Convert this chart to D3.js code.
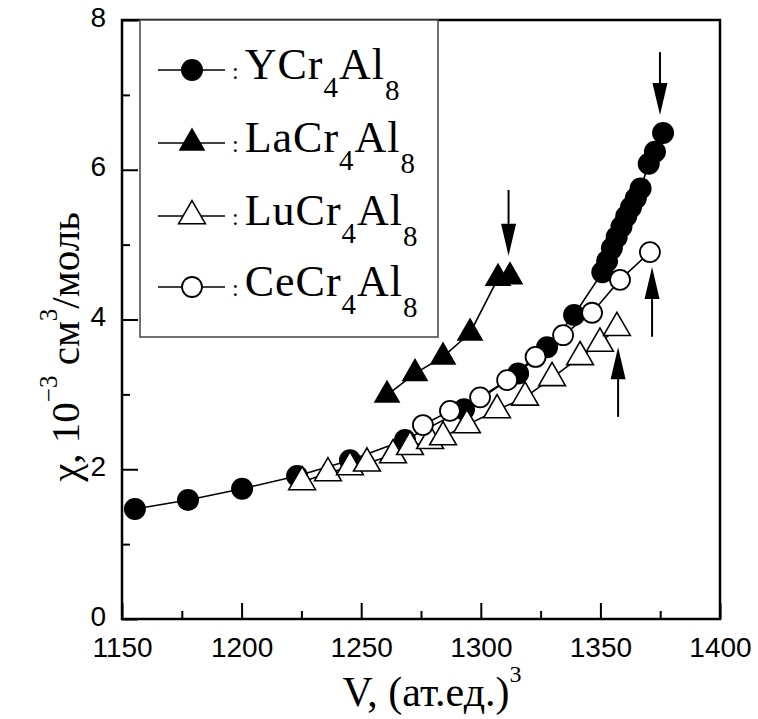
<!DOCTYPE html>
<html>
<head>
<meta charset="utf-8">
<script src="https://cdn.jsdelivr.net/npm/d3@7"></script>
<style>
  html, body { margin: 0; padding: 0; background: #fff; }
  svg { display: block; }
</style>
</head>
<body>
<svg id="chart" width="758" height="719"></svg>
<script>
// Magnetic susceptibility χ (10^-3 cm^3/mol) vs unit-cell volume V (a.u.^3)
const seriesNames = ["YCr4Al8", "LaCr4Al8", "LuCr4Al8", "CeCr4Al8"];
const seriesPrefix = ["Y", "La", "Lu", "Ce"];

const yV   = [1155.4, 1177.6, 1200.2, 1223.2, 1245.3, 1268.3, 1293.0, 1315.6, 1327.7, 1339.0,
              1350.8, 1352.8, 1354.8, 1356.8, 1358.8, 1360.8, 1362.8, 1364.8, 1366.8, 1370.2, 1372.8, 1376.2];
const yChi = [1.47, 1.59, 1.74, 1.91, 2.12, 2.39, 2.80, 3.28, 3.63, 4.06,
              4.63, 4.78, 4.95, 5.10, 5.24, 5.38, 5.50, 5.62, 5.75, 6.08, 6.24, 6.49];

const laV   = [1260.8, 1272.5, 1284.2, 1295.5, 1307.2, 1312.2];
const laChi = [2.99, 3.28, 3.50, 3.82, 4.55, 4.57];

const luV   = [1225.3, 1236.1, 1245.3, 1252.4, 1263.3, 1270.4, 1278.8, 1284.2, 1294.2, 1306.8,
               1318.5, 1329.8, 1341.5, 1349.8, 1356.9];
const luChi = [1.83, 1.95, 2.03, 2.08, 2.19, 2.30, 2.38, 2.43, 2.59, 2.79,
               2.96, 3.22, 3.50, 3.68, 3.89];

const ceV   = [1275.8, 1287.1, 1299.7, 1311.0, 1322.9, 1334.4, 1346.5, 1358.2, 1370.7];
const ceChi = [2.59, 2.78, 2.96, 3.19, 3.50, 3.79, 4.09, 4.53, 4.90];

// Arrows marking transition points: V, χ at tail, χ at tip
const arrowV    = [1311.6, 1374.9, 1371.6, 1357.4];
const arrowFrom = [5.73, 7.57, 3.77, 2.70];
const arrowTo   = [4.85, 6.73, 4.70, 3.63];

const xMajorTicks = [1150, 1200, 1250, 1300, 1350, 1400];
const xMinorTicks = [1175, 1225, 1275, 1325, 1375];
const yMajorTicks = [0, 2, 4, 6, 8];
const yMinorTicks = [1, 3, 5, 7];

const series = [
  { name: seriesNames[0], prefix: seriesPrefix[0], v: yV,  chi: yChi,  shape: "circle",   filled: true },
  { name: seriesNames[1], prefix: seriesPrefix[1], v: laV, chi: laChi, shape: "triangle", filled: true },
  { name: seriesNames[2], prefix: seriesPrefix[2], v: luV, chi: luChi, shape: "triangle", filled: false },
  { name: seriesNames[3], prefix: seriesPrefix[3], v: ceV, chi: ceChi, shape: "circle",   filled: false }
];

const svg = d3.select("#chart");
const plotLeft = 122, plotRight = 720, plotTop = 20, plotBottom = 619;

const x = d3.scaleLinear().domain([1150, 1400]).range([plotLeft, plotRight]);
const y = d3.scaleLinear().domain([0, 8]).range([plotBottom, plotTop]);

const serif = "'Liberation Serif', 'Times New Roman', serif";
const sans = "'Liberation Sans', Arial, sans-serif";

// Axes with inward ticks
const gx = svg.append("g").attr("transform", `translate(0,${plotBottom})`)
  .call(d3.axisBottom(x).tickValues(xMajorTicks).tickSize(-16).tickPadding(18).tickFormat(d3.format("d")));
const gxm = svg.append("g").attr("transform", `translate(0,${plotBottom})`)
  .call(d3.axisBottom(x).tickValues(xMinorTicks).tickSize(-8).tickFormat(""));
const gy = svg.append("g").attr("transform", `translate(${plotLeft},0)`)
  .call(d3.axisLeft(y).tickValues(yMajorTicks).tickSize(-16).tickPadding(16).tickFormat(d3.format("d")));
const gym = svg.append("g").attr("transform", `translate(${plotLeft},0)`)
  .call(d3.axisLeft(y).tickValues(yMinorTicks).tickSize(-8).tickFormat(""));

[gx, gxm, gy, gym].forEach(g => {
  g.select(".domain").remove();
  g.selectAll(".tick line").attr("stroke", "#000").attr("stroke-width", 2);
  g.selectAll(".tick text").attr("fill", "#000").style("font-family", sans).style("font-size", "28px");
});
gy.selectAll(".tick text").attr("dy", "0.22em");

// Plot frame
svg.append("rect")
  .attr("x", plotLeft).attr("y", plotTop)
  .attr("width", plotRight - plotLeft).attr("height", plotBottom - plotTop)
  .attr("fill", "none").attr("stroke", "#000").attr("stroke-width", 2.5);

const triSym = d3.symbol().type(d3.symbolTriangle).size(310);

function drawMarker(g, s, cx, cy) {
  if (s.shape === "circle") {
    g.append("circle").attr("cx", cx).attr("cy", cy).attr("r", s.filled ? 11 : 10)
      .attr("fill", s.filled ? "#000" : "#fff").attr("stroke", "#000").attr("stroke-width", s.filled ? 0 : 1.8);
  } else {
    g.append("path").attr("d", triSym).attr("transform", `translate(${cx},${cy})`)
      .attr("fill", s.filled ? "#000" : "#fff").attr("stroke", "#000").attr("stroke-width", s.filled ? 0 : 1.6);
  }
}

const line = d3.line().x(d => x(d[0])).y(d => y(d[1]));

series.forEach(s => {
  const pts = s.v.map((v, i) => [v, s.chi[i]]);
  const g = svg.append("g");
  g.append("path").attr("d", line(pts)).attr("fill", "none").attr("stroke", "#000").attr("stroke-width", 1.6);
  pts.forEach(p => drawMarker(g, s, x(p[0]), y(p[1])));
});

// Arrows
arrowV.forEach((v, i) => {
  const ax = x(v), y0 = y(arrowFrom[i]), y1 = y(arrowTo[i]);
  const dir = y1 > y0 ? 1 : -1;
  const headLen = 32, headHalf = 7.5;
  svg.append("line").attr("x1", ax).attr("x2", ax).attr("y1", y0).attr("y2", y1 - dir * headLen)
    .attr("stroke", "#000").attr("stroke-width", 2);
  svg.append("path")
    .attr("d", `M${ax - headHalf},${y1 - dir * headLen} L${ax + headHalf},${y1 - dir * headLen} L${ax},${y1} Z`)
    .attr("fill", "#000");
});

// Legend
const legend = svg.append("g");
legend.append("rect").attr("x", 140).attr("y", plotTop).attr("width", 298).attr("height", 337 - plotTop)
  .attr("fill", "#fff").attr("stroke", "#444").attr("stroke-width", 1.5);
const rowY = [70, 143, 216, 287];
series.forEach((s, i) => {
  const ly = rowY[i];
  legend.append("line").attr("x1", 158).attr("x2", 225).attr("y1", ly).attr("y2", ly)
    .attr("stroke", "#000").attr("stroke-width", 1.6);
  drawMarker(legend, s, 192, ly);
  const t = legend.append("text").attr("x", 232).attr("y", ly + 9)
    .style("font-family", serif).attr("fill", "#000").style("letter-spacing", "1px");
  t.append("tspan").text(":").style("font-size", "24px");
  t.append("tspan").attr("dx", 5).text(s.prefix + "Cr").style("font-size", "44px");
  t.append("tspan").attr("dy", 18).text("4").style("font-size", "29px");
  t.append("tspan").attr("dy", -18).text("Al").style("font-size", "44px");
  t.append("tspan").attr("dy", 21).text("8").style("font-size", "29px");
});

// Axis titles
const xt = svg.append("text").attr("x", 432).attr("y", 706).attr("text-anchor", "middle")
  .style("font-family", serif).style("font-size", "42px").attr("fill", "#000");
xt.append("tspan").text("V, (ат.ед.)");
xt.append("tspan").attr("dy", -24).style("font-size", "24px").text("3");

const yt = svg.append("text").attr("transform", "translate(79,347) rotate(-90)").attr("text-anchor", "middle")
  .style("font-family", serif).style("font-size", "41px").attr("fill", "#000");
yt.append("tspan").text("χ, 10");
yt.append("tspan").attr("dy", -22).style("font-size", "25px").text("−3");
yt.append("tspan").attr("dy", 22).text(" см");
yt.append("tspan").attr("dy", -22).style("font-size", "25px").text("3");
yt.append("tspan").attr("dy", 22).text("/моль");
</script>
</body>
</html>
